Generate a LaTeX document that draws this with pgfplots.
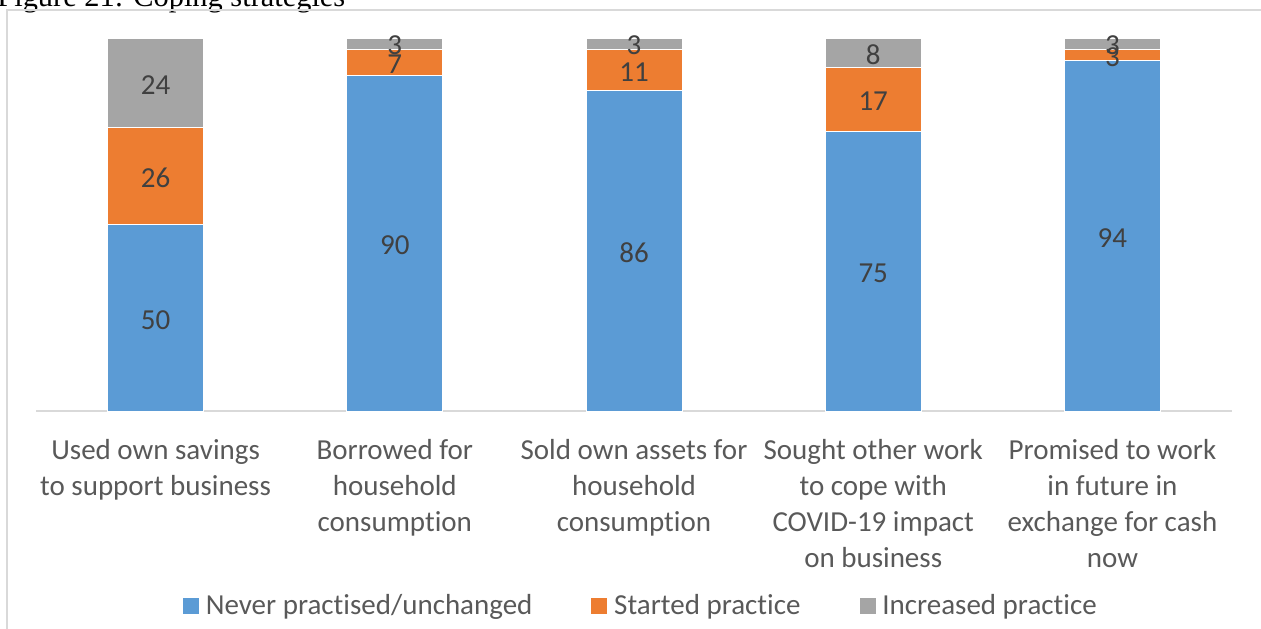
\documentclass[border=0pt]{standalone}
\usepackage{fontspec}
\setmainfont{Carlito}[Ligatures=NoCommon]
\newfontfamily\titlefont{Liberation Serif}
\usepackage{pgfplots}
\pgfplotsset{compat=1.18}
\definecolor{cblue}{HTML}{5B9BD5}
\definecolor{corange}{HTML}{ED7D31}
\definecolor{cgray}{HTML}{A5A5A5}
\definecolor{tickgray}{HTML}{595959}
\definecolor{labgray}{HTML}{404040}
\definecolor{framegray}{HTML}{D9D9D9}
\newcommand{\lblfont}{\fontsize{14.5}{18}\selectfont}
\pgfplotsset{
  common/.style={
    scale only axis, width=598pt, height=186.5pt,
    at={(18pt,108.5pt)}, anchor=south west,
    xmin=-0.5, xmax=4.5, ymin=0, ymax=100,
  },
  sq/.style={legend image code/.code={\fill[##1] (0pt,-4.25pt) rectangle (8.5pt,4.25pt);}},
}
\begin{document}
\begin{tikzpicture}
\path[use as bounding box] (0,0) rectangle (630.5pt,314pt);
\clip (0,0) rectangle (630.5pt,314pt);
\node[anchor=base west, inner sep=0pt, font=\titlefont\fontsize{15.2}{17}\selectfont] at (-1.5pt,310.5pt) {Figure 21: Coping strategies};
\draw[framegray, line width=1pt] (3.5pt,-5pt) -- (3.5pt,309pt) -- (640pt,309pt);
\begin{axis}[common,
  ybar stacked, bar width=48pt,
  hide y axis,
  axis x line*=bottom,
  x axis line style={draw=framegray, line width=0.8pt},
  xtick={0,1,2,3,4},
  major tick length=0pt,
  xticklabels={{Used own savings\\to support business},{Borrowed for\\household\\consumption},{Sold own assets for\\household\\consumption},{Sought other work\\to cope with\\COVID-19 impact\\on business},{Promised to work\\in future in\\exchange for cash\\now}},
  xticklabel style={align=center, font=\lblfont, text=tickgray, yshift=-10.5pt},
  legend style={at={(0.507,-0.5228)}, anchor=center, legend columns=3, draw=none, fill=none,
    font=\lblfont, text=tickgray, inner sep=0pt,
    /tikz/every even column/.append style={column sep=26pt},
    /tikz/every odd column/.append style={column sep=0pt},
    nodes={inner xsep=3pt}},
  every axis plot/.append style={draw=white, line width=0.4pt},
]
\addplot[fill=cblue, sq] coordinates {(0,50) (1,90) (2,86) (3,75) (4,94)};
\addlegendentry{Never practised/unchanged}
\addplot[fill=corange, sq] coordinates {(0,26) (1,7) (2,11) (3,17) (4,3)};
\addlegendentry{Started practice}
\addplot[fill=cgray, sq] coordinates {(0,24) (1,3) (2,3) (3,8) (4,3)};
\addlegendentry{Increased practice}
\end{axis}
\begin{axis}[common, hide axis,
  nodes near coords, point meta=explicit symbolic,
  nodes near coords style={anchor=center, font=\lblfont, text=labgray, inner sep=0pt, yshift=-1pt},
]
\addplot[only marks, mark=none] coordinates {(0,25)[50] (1,45)[90] (2,43)[86] (3,37.5)[75] (4,47)[94]};
\addplot[only marks, mark=none] coordinates {(0,63)[26] (1,93.5)[7] (2,91.5)[11] (3,83.5)[17] (4,95.5)[3]};
\addplot[only marks, mark=none] coordinates {(0,88)[24] (1,98.5)[3] (2,98.5)[3] (3,96)[8] (4,98.5)[3]};
\end{axis}
\end{tikzpicture}
\end{document}
